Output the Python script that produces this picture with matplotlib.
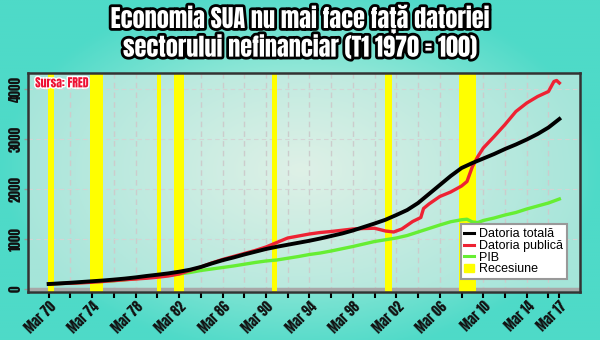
import numpy as np
import matplotlib
matplotlib.use("Agg")
import matplotlib.pyplot as plt
import matplotlib.patheffects as pe
from matplotlib.patches import Patch
from matplotlib.lines import Line2D

# values (index, Q1 1970 = 100)
total_years = [1970, 1971, 1972, 1973, 1974, 1975, 1976, 1977, 1978, 1979, 1980, 1981,
               1982, 1983, 1984, 1985, 1986, 1987, 1988, 1989, 1990, 1991, 1992, 1993,
               1994, 1995, 1996, 1997, 1998, 1999, 2000, 2001, 2002, 2003, 2004, 2005,
               2006, 2007, 2008, 2009, 2010, 2011, 2012, 2013, 2014, 2015, 2016, 2017]
total_debt = [100, 112, 125, 140, 155, 170, 188, 208, 232, 260, 285, 312,
              345, 385, 440, 510, 575, 630, 690, 745, 800, 845, 885, 925,
              965, 1010, 1060, 1110, 1170, 1240, 1310, 1385, 1480, 1580, 1720, 1900,
              2080, 2260, 2420, 2520, 2610, 2700, 2800, 2890, 2990, 3100, 3230, 3400]

public_years = [1970, 1971, 1972, 1973, 1974, 1975, 1976, 1977, 1978, 1979, 1980, 1981,
                1982, 1983, 1984, 1985, 1986, 1987, 1988, 1989, 1990, 1991, 1992, 1993,
                1994, 1995, 1996, 1997, 1998, 1999, 2000, 2001, 2001.75, 2002.5, 2003.5,
                2004.25, 2004.5, 2005, 2006, 2007, 2008, 2008.5, 2009, 2009.5, 2010,
                2011, 2012, 2013, 2014, 2015, 2016, 2016.5, 2016.75, 2017]
public_debt = [100, 108, 115, 122, 135, 150, 168, 185, 200, 215, 235, 260,
               300, 370, 440, 520, 590, 650, 710, 770, 840, 930, 1020, 1060,
               1100, 1130, 1150, 1175, 1200, 1210, 1215, 1160, 1140, 1200, 1350,
               1430, 1610, 1700, 1850, 1940, 2060, 2150, 2450, 2650, 2820,
               3050, 3290, 3550, 3720, 3850, 3950, 4150, 4170, 4120]

gdp_years = [1970, 1972, 1974, 1976, 1978, 1980, 1982, 1983, 1984, 1985, 1986, 1987,
             1988, 1989, 1990, 1991, 1992, 1993, 1994, 1995, 1996, 1997, 1998, 1999,
             2000, 2001, 2002, 2003, 2004, 2005, 2006, 2007, 2008, 2008.5, 2009, 2009.5,
             2010, 2011, 2012, 2013, 2014, 2015, 2016, 2017]
gdp = [100, 118, 140, 165, 205, 250, 300, 330, 370, 400, 430, 460,
       495, 530, 560, 580, 615, 650, 690, 720, 760, 805, 850, 900,
       950, 985, 1020, 1070, 1140, 1210, 1280, 1345, 1385, 1395, 1340, 1330,
       1370, 1420, 1480, 1530, 1600, 1660, 1720, 1800]

recessions = [(1969.95, 1970.5), (1973.8, 1975.0), (1979.97, 1980.3), (1981.5, 1982.5),
              (1990.55, 1991.0), (2001.0, 2001.6), (2007.8, 2009.3)]

tick_years = list(range(1970, 2017, 2)) + [2017]
label_years = list(range(1970, 2015, 4)) + [2017]

# condensed heavy face, falling back to DejaVu if it is missing
title_font = ["Anton", "Oswald", "DejaVu Sans"]


def main():
    fig = plt.figure(figsize=(6, 3.4), dpi=100)

    # gradient backdrop
    bg = fig.add_axes([0, 0, 1, 1], zorder=-10)
    yy, xx = np.mgrid[-1:1:200j, -1:1:300j]
    r = np.clip(np.sqrt((xx / 1.0) ** 2 + (yy / 1.1) ** 2), 0, 1)
    edge = np.array([78, 218, 200]) / 255
    centre = np.array([222, 246, 232]) / 255
    img = centre[None, None, :] * (1 - r[..., None]) + edge[None, None, :] * r[..., None]
    bg.imshow(img, aspect="auto", extent=[0, 1, 0, 1])
    bg.axis("off")

    ax = fig.add_axes([28 / 600, 1 - 292 / 340, 552 / 600, 219 / 340])
    ax.set_facecolor((0.88, 0.93, 0.90, 0.6))

    for start, end in recessions:
        ax.axvspan(start, end, color="#ffff00", lw=0, zorder=1)

    for t in tick_years[:-1]:
        ax.axvline(t, color="#cccccc", lw=1, ls=(0, (4, 3)), zorder=0.5)
    for v in [1000, 2000, 3000, 4000]:
        ax.axhline(v, color="#d4d4d4", lw=0.8, ls=(0, (4, 3)), zorder=0.5)
    ax.axhline(0, color="#a8a8a8", lw=2.5, zorder=0.8)

    ax.plot(gdp_years, gdp, color="#66ee33", lw=2.4, zorder=3)
    ax.plot(public_years, public_debt, color="#ee2233", lw=2.4, zorder=4)
    ax.plot(total_years, total_debt, color="black", lw=2.8, zorder=5)

    ax.set_xlim(1968.1, 2018.9)
    ax.set_ylim(-60, 4320)

    ax.set_xticks(tick_years)
    ax.set_xticklabels(["Mar %02d" % (y % 100) if y in label_years else "" for y in tick_years],
                       rotation=45, ha="right", rotation_mode="anchor",
                       fontsize=9.5, family=title_font, color="#111111")
    ax.set_yticks([0, 1000, 2000, 3000, 4000])
    ax.set_yticklabels(["0", "1000", "2000", "3000", "4000"], rotation=90, va="center",
                       fontsize=9.5, family=title_font, color="#111111")
    ax.tick_params(axis="x", length=4, width=1.5, pad=1)
    ax.tick_params(axis="y", length=3, width=1, color="#999999", pad=1)
    for s in ax.spines.values():
        s.set_color("#333333")
        s.set_linewidth(1.8)

    handles = [Line2D([], [], color="black", lw=2.2),
               Line2D([], [], color="#ee2233", lw=2.2),
               Line2D([], [], color="#66ee33", lw=2.2),
               Patch(color="#ffff00")]
    leg = ax.legend(handles, ["Datoria totală", "Datoria publică", "PIB", "Recesiune"],
                    loc="lower right", bbox_to_anchor=(0.988, 0.03),
                    prop={"family": "Liberation Sans", "size": 9},
                    handlelength=0.8, handleheight=0.6, handletextpad=0.4,
                    labelspacing=-0.02, borderpad=0.3, fancybox=False, framealpha=1)
    leg.get_frame().set_edgecolor("#999999")
    leg.get_frame().set_linewidth(1.5)
    leg.set_zorder(10)

    ax.text(0.013, 0.955, "Sursa: FRED", transform=ax.transAxes, color="#ee1133",
            fontsize=8.5, family=title_font,
            va="center", ha="left", zorder=11,
            path_effects=[pe.withStroke(linewidth=2, foreground="white")])

    outline = [pe.withStroke(linewidth=4, foreground="black")]
    fig.text(0.5, 1 - 20 / 340, "Economia SUA nu mai face față datoriei", ha="center",
             va="center", color="white", fontsize=17.5,
             family=title_font, path_effects=outline)
    fig.text(0.5, 1 - 47 / 340, "sectorului nefinanciar (T1 1970 = 100)", ha="center",
             va="center", color="white", fontsize=17.5,
             family=title_font, path_effects=outline)

    fig.savefig("out.png", dpi=100)


if (__name__ == "__main__"):
    main()
